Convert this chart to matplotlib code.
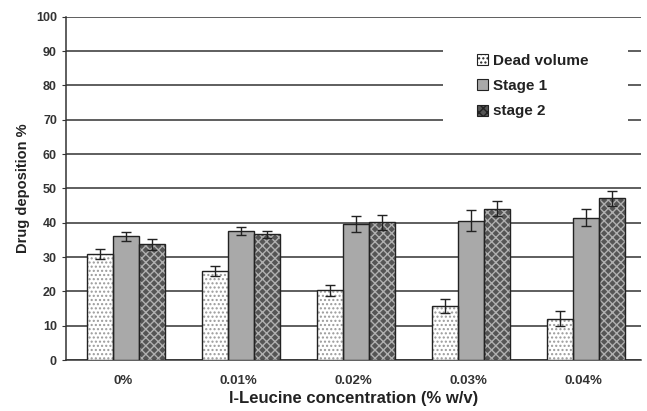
import matplotlib.pyplot as plt
import numpy as np

plt.rcParams["font.family"] = ["Liberation Sans", "DejaVu Sans"]
plt.rcParams["font.weight"] = "bold"

categorias = ["0%", "0.01%", "0.02%", "0.03%", "0.04%"]
dead_volume = [31.0, 26.0, 20.3, 15.7, 12.1]
dead_err = [1.5, 1.4, 1.5, 2.1, 2.2]
stage1 = [36.0, 37.5, 39.7, 40.6, 41.5]
stage1_err = [1.3, 1.2, 2.4, 3.0, 2.5]
stage2 = [33.7, 36.7, 40.2, 44.1, 47.1]
stage2_err = [1.7, 1.0, 2.2, 2.1, 2.1]

series = [
    ("Dead volume", dead_volume, dead_err, "white", "#9a9a9a", "...."),
    ("Stage 1", stage1, stage1_err, "#a9a9a9", None, None),
    ("stage 2", stage2, stage2_err, "#555555", "#b0b0b0", "xxxx"),
]

fig = plt.figure(figsize=(6.47, 4.11), dpi=100)
ax = fig.add_axes([0.102, 0.124, 0.889, 0.835])

x = np.arange(len(categorias))
ancho = 0.226
handles = []
for i, (nombre, vals, err, fc, hc, hatch) in enumerate(series):
    pos = x + (i - 1) * ancho + 0.02
    if hatch:
        ax.bar(pos, vals, ancho, color=fc, edgecolor=hc, hatch=hatch, linewidth=0, zorder=3)
    else:
        ax.bar(pos, vals, ancho, color=fc, linewidth=0, zorder=3)
    ax.bar(pos, vals, ancho, fill=False, edgecolor="#222222", linewidth=1.0, zorder=4)
    ax.errorbar(pos, vals, yerr=err, fmt="none", ecolor="#222222", elinewidth=1.0,
                capsize=3.5, capthick=1.0, zorder=5)
    proxy = plt.Rectangle((0, 0), 1, 1, facecolor=fc, edgecolor="#222222",
                          hatch=hatch, linewidth=0.8)
    handles.append((proxy, nombre))

ax.set_xlim(-0.5, 4.5)
ax.set_ylim(0, 100)
ax.set_yticks(range(0, 101, 10))
ax.set_xticks(x)
ax.set_xticklabels(categorias)
ax.yaxis.grid(True, color="#333333", linewidth=1.1, zorder=0)
ax.set_axisbelow(True)
for s in ["top", "right"]:
    ax.spines[s].set_visible(False)
for s in ["left", "bottom"]:
    ax.spines[s].set_color("#333333")
    ax.spines[s].set_linewidth(1.1)
ax.tick_params(axis="y", length=3, color="#333333", labelsize=9, labelcolor="#333333")
ax.tick_params(axis="x", length=0, labelsize=9.5, labelcolor="#333333", pad=11)
ax.set_ylabel("Drug deposition %", fontsize=10.5, fontweight="bold", color="#222222")
ax.set_xlabel("l-Leucine concentration (% w/v)", fontsize=12, fontweight="bold",
              color="#222222", labelpad=3)

# hueco blanco detrás de la leyenda (corta las líneas de la rejilla)
hueco = plt.Rectangle((443 / 647, (411 - 128) / 411), 185 / 647, 83 / 411,
                      transform=fig.transFigure, facecolor="white",
                      edgecolor="none", zorder=1)
ax.add_artist(hueco)

leg = ax.legend([h for h, _ in handles], [n for _, n in handles],
                loc="upper left", bbox_to_anchor=(0.714, 0.893), frameon=False,
                fontsize=11, handlelength=0.75, handleheight=0.75, handletextpad=0.35,
                labelspacing=0.75, borderpad=0, borderaxespad=0)
leg.set_zorder(6)
for t in leg.get_texts():
    t.set_fontweight("bold")
    t.set_color("#222222")

fig.savefig("out.png", dpi=100)
